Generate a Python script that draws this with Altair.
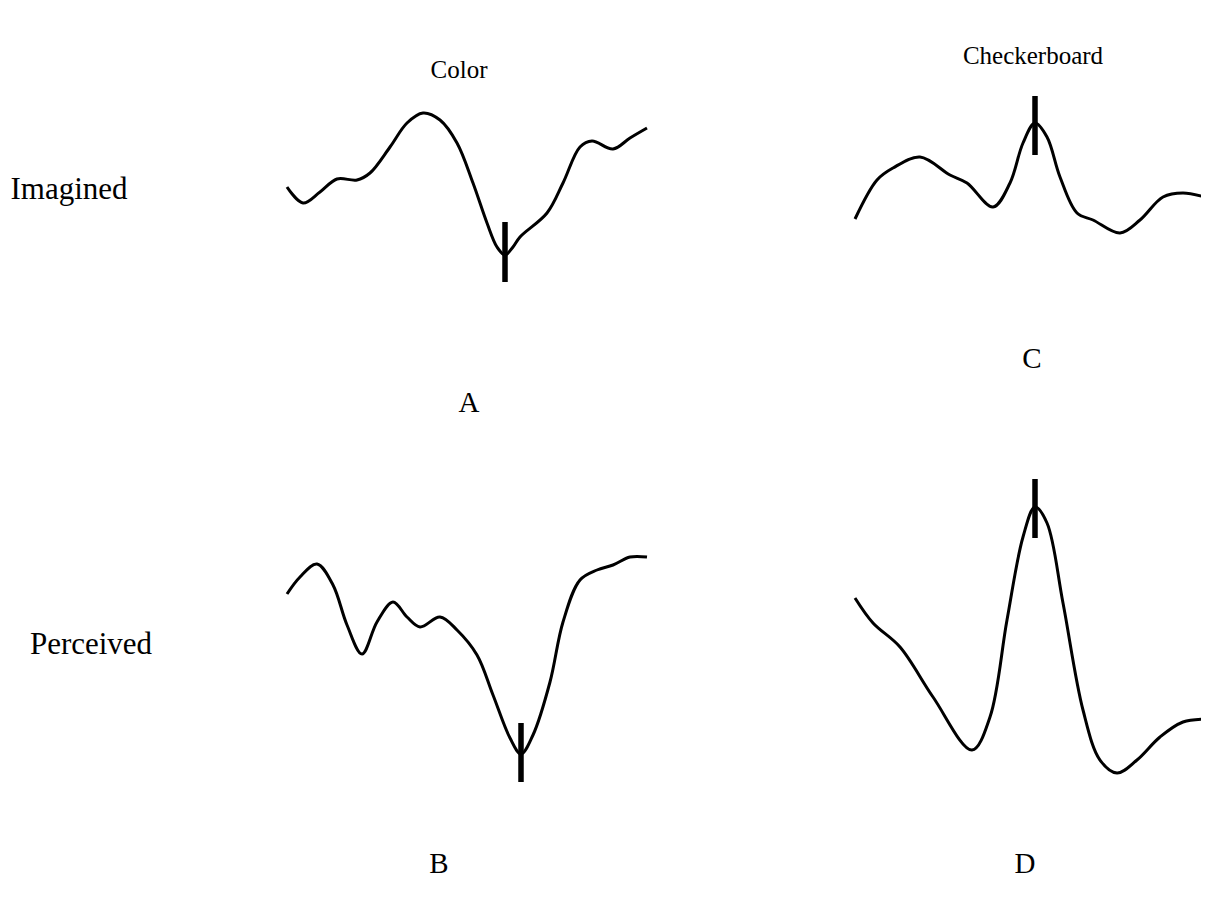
import altair as alt
import pandas as pd

# ---- waveform data (time in ms-like units from panel start, amplitude in arbitrary units, up = positive)
a_t = [0, 16, 33, 50, 70, 83, 103, 120, 136, 153, 170, 186, 200, 210, 218, 226, 233, 260, 276, 293, 305, 326, 343, 360]
a_v = [13, -3, 8, 21, 20, 27, 53, 77, 87, 80, 57, 17, -23, -47, -55, -47, -37, -13, 17, 53, 59, 51, 62, 72]

c_t = [0, 22, 38, 65, 95, 112, 138, 155, 168, 180, 192, 205, 222, 238, 265, 285, 308, 328, 353]
c_v = [-19, 20, 32, 43, 25, 17, -7, 17, 57, 77, 63, 23, -13, -20, -33, -20, 3, 7, 2]

b_t = [0, 13, 30, 46, 60, 75, 90, 106, 120, 133, 153, 170, 190, 206, 223, 234, 246, 263, 276, 293, 310, 326, 343, 360]
b_v = [66, 83, 96, 75, 35, 6, 38, 58, 43, 33, 43, 30, 5, -35, -78, -94, -75, -22, 38, 80, 90, 95, 103, 103]

d_t = [0, 18, 45, 78, 117, 135, 152, 168, 180, 192, 208, 228, 245, 262, 282, 305, 328, 353]
d_v = [52, 27, 3, -47, -100, -67, 30, 113, 143, 127, 47, -60, -110, -123, -110, -87, -72, -69]

# marker ticks: time and amplitude extent
tick_t = [218, 180, 234, 180]
tick_lo = [-82, 45, -122, 112]
tick_hi = [-22, 104, -63, 171]

panels = ["A", "C", "B", "D"]
series_t = [a_t, c_t, b_t, d_t]
series_v = [a_v, c_v, b_v, d_v]

# panel origins in figure coordinates (layout)
origin_x = {"A": 279, "C": 847, "B": 279, "D": 847}
origin_y = {"A": 192, "C": 192, "B": 652, "D": 642}

rows = []
for p, ts, vs in zip(panels, series_t, series_v):
    for t, v in zip(ts, vs):
        rows.append({"panel": p, "x": origin_x[p] + t, "y": origin_y[p] - v})
curves = pd.DataFrame(rows)

ticks = pd.DataFrame({
    "panel": panels,
    "x": [origin_x[p] + t for p, t in zip(panels, tick_t)],
    "y": [origin_y[p] - v for p, v in zip(panels, tick_hi)],
    "y2": [origin_y[p] - v for p, v in zip(panels, tick_lo)],
})

# column titles
col_text = ["Color", "Checkerboard"]
col_x = [451, 1025]
col_y = [75, 61]
# row labels
row_text = ["Imagined", "Perceived"]
row_x = [61, 83]
row_y = [198, 653]
# panel letters
let_text = ["A", "C", "B", "D"]
let_x = [461, 1024, 431, 1017]
let_y = [410, 366, 871, 871]

cols = pd.DataFrame({"text": col_text, "x": col_x, "y": col_y})
rowl = pd.DataFrame({"text": row_text, "x": row_x, "y": row_y})
lets = pd.DataFrame({"text": let_text, "x": let_x, "y": let_y})

W, H = 1193, 894
xs = alt.Scale(domain=[0, W], range=[0, W], nice=False, zero=False)
ys = alt.Scale(domain=[0, H], range=[0, H], nice=False, zero=False)

lines = alt.Chart(curves).mark_line(
    color="black", strokeWidth=3, interpolate="catmull-rom"
).encode(
    x=alt.X("x:Q", scale=xs, axis=None),
    y=alt.Y("y:Q", scale=ys, axis=None),
    detail="panel:N",
)

rules = alt.Chart(ticks).mark_rule(color="black", strokeWidth=5.5, strokeCap="butt").encode(
    x=alt.X("x:Q", scale=xs, axis=None),
    y=alt.Y("y:Q", scale=ys, axis=None),
    y2="y2:Q",
)


def text_layer(df, size):
    return alt.Chart(df).mark_text(
        font="Liberation Serif", fontSize=size, color="black", align="center", baseline="bottom"
    ).encode(
        x=alt.X("x:Q", scale=xs, axis=None),
        y=alt.Y("y:Q", scale=ys, axis=None),
        text="text:N",
    )


chart = alt.layer(
    lines, rules, text_layer(cols, 25), text_layer(rowl, 31), text_layer(lets, 29)
).properties(
    width=W, height=H, padding=0, autosize=alt.AutoSizeParams(type="none"), background="white"
).configure_view(stroke=None)

chart.save("out.html", embed_options={"renderer": "svg", "actions": False})
